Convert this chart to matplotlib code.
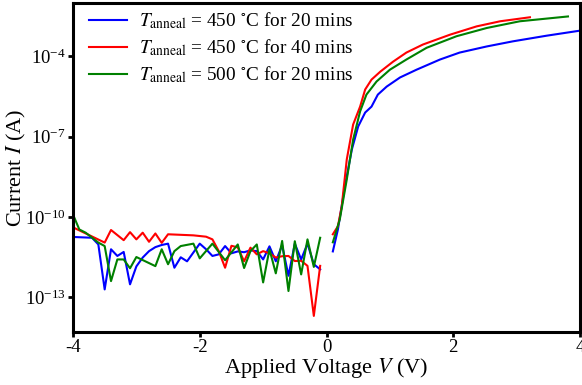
import matplotlib
matplotlib.use('Agg')
import matplotlib.pyplot as plt
import numpy as np
from matplotlib.ticker import LogFormatterSciNotation, NullLocator

plt.rcParams['font.family'] = ['Liberation Serif', 'DejaVu Serif']
plt.rcParams['mathtext.fontset'] = 'stix'
plt.rcParams['axes.unicode_minus'] = False

# values: voltage (V) and log10 of current (A)
# reverse sweep (negative bias)
v_neg_450_20 = [-4.0, -3.7, -3.6, -3.5, -3.4, -3.3, -3.2, -3.1, -3.0, -2.9, -2.8, -2.7,
                -2.6, -2.5, -2.4, -2.3, -2.2, -2.0, -1.9, -1.8, -1.7, -1.6, -1.5, -1.4,
                -1.3, -1.2, -1.1, -1.0, -0.9, -0.8, -0.7, -0.6, -0.5, -0.4, -0.3, -0.2, -0.1]
logi_neg_450_20 = [-10.75, -10.78, -11.03, -12.71, -11.21, -11.46, -11.31, -12.52, -11.85,
                   -11.52, -11.28, -11.13, -11.05, -11.00, -11.90, -11.51, -11.66, -11.00,
                   -11.21, -11.46, -11.40, -11.09, -11.36, -11.29, -11.32, -11.25, -11.28,
                   -11.59, -11.10, -11.66, -11.06, -12.20, -11.00, -11.59, -11.00, -11.77,
                   -11.96]

v_neg_450_40 = [-4.0, -3.5, -3.4, -3.2, -3.1, -3.0, -2.9, -2.8, -2.7, -2.6, -2.5, -2.3,
                -2.1, -1.9, -1.8, -1.7, -1.6, -1.5, -1.4, -1.3, -1.2, -1.1, -1.0, -0.9,
                -0.8, -0.7, -0.6, -0.5, -0.4, -0.3, -0.2, -0.1]
logi_neg_450_40 = [-10.39, -10.96, -10.49, -10.87, -10.57, -10.84, -10.59, -10.93, -10.62,
                   -10.97, -10.65, -10.67, -10.69, -10.74, -10.84, -11.28, -11.90, -11.08,
                   -11.14, -11.66, -11.15, -11.40, -11.28, -11.36, -11.52, -11.47, -11.46,
                   -11.65, -11.64, -11.83, -13.70, -11.83]

v_neg_500_20 = [-4.0, -3.9, -3.8, -3.6, -3.5, -3.4, -3.3, -3.2, -3.1, -3.0, -2.7, -2.6,
                -2.5, -2.4, -2.3, -2.1, -2.0, -1.8, -1.6, -1.4, -1.3, -1.2, -1.1, -1.0,
                -0.9, -0.8, -0.7, -0.6, -0.5, -0.4, -0.3, -0.2, -0.1]
logi_neg_500_20 = [-9.91, -10.47, -10.59, -10.96, -11.09, -12.40, -11.59, -11.59, -11.92,
                   -11.50, -11.84, -11.21, -11.77, -11.28, -11.09, -11.00, -11.55, -11.00,
                   -11.62, -11.03, -11.91, -11.28, -11.03, -12.45, -11.21, -12.11, -10.90,
                   -12.77, -10.91, -12.15, -10.84, -11.87, -10.78]

# forward sweep (positive bias)
v_pos_450_20 = [0.1, 0.18, 0.29, 0.4, 0.5, 0.61, 0.71, 0.81, 0.95, 1.16, 1.42, 1.79,
                2.1, 2.53, 2.94, 3.47, 4.0]
logi_pos_450_20 = [-11.29, -10.47, -8.86, -7.48, -6.62, -6.10, -5.88, -5.43, -5.13, -4.79,
                   -4.50, -4.12, -3.86, -3.63, -3.44, -3.23, -3.04]

v_pos_450_40 = [0.1, 0.18, 0.24, 0.32, 0.42, 0.53, 0.61, 0.71, 0.85, 1.05, 1.26, 1.52,
                1.95, 2.37, 2.74, 3.21]
logi_pos_450_40 = [-10.65, -10.35, -9.61, -7.85, -6.55, -5.88, -5.24, -4.87, -4.57, -4.20,
                   -3.86, -3.56, -3.19, -2.88, -2.69, -2.54]

v_pos_500_20 = [0.1, 0.21, 0.32, 0.42, 0.53, 0.63, 0.79, 1.0, 1.26, 1.58, 2.05, 2.53,
                3.05, 3.81]
logi_pos_500_20 = [-10.95, -10.09, -8.60, -7.11, -6.06, -5.43, -4.94, -4.50, -4.12, -3.68,
                   -3.25, -2.94, -2.69, -2.51]

labels = [r'$T_{\mathrm{anneal}}$ = 450 $^{\circ}$C for 20 mins',
          r'$T_{\mathrm{anneal}}$ = 450 $^{\circ}$C for 40 mins',
          r'$T_{\mathrm{anneal}}$ = 500 $^{\circ}$C for 20 mins']
colors = ['blue', 'red', 'green']

curves = [(v_neg_450_20, logi_neg_450_20, v_pos_450_20, logi_pos_450_20),
          (v_neg_450_40, logi_neg_450_40, v_pos_450_40, logi_pos_450_40),
          (v_neg_500_20, logi_neg_500_20, v_pos_500_20, logi_pos_500_20)]

fig = plt.figure(figsize=(5.82, 3.85), dpi=100)
ax = fig.add_axes([0.1254, 0.1377, 0.8712, 0.855])

for (vn, ln, vp, lp), label, color in zip(curves, labels, colors):
    ax.plot(vn, 10.0 ** np.array(ln), color=color, lw=1.5, label=label)
    ax.plot(vp, 10.0 ** np.array(lp), color=color, lw=1.5)

ax.set_yscale('log')
ax.set_xlim(-4, 4)
ax.set_ylim(5e-15, 1e-2)
ax.set_xticks([-4, -2, 0, 2, 4])
ax.set_yticks([1e-13, 1e-10, 1e-7, 1e-4])
ax.yaxis.set_major_formatter(LogFormatterSciNotation())
ax.yaxis.set_minor_locator(NullLocator())
ax.tick_params(labelsize=13.5, width=2, length=3.5, pad=1.5, direction='out')
for s in ax.spines.values():
    s.set_linewidth(2.2)

ax.set_xlabel(r'Applied Voltage $V$ (V)', fontsize=16, labelpad=0)
ax.set_ylabel(r'Current $I$ (A)', fontsize=16)
ax.yaxis.set_label_coords(-0.089, 0.5)

ax.legend(loc='upper left', bbox_to_anchor=(0.016, 1.0), frameon=False, fontsize=13.9,
          handlelength=2.0, handletextpad=0.6, labelspacing=0.32, borderaxespad=0)

fig.savefig('out.png', dpi=100)
